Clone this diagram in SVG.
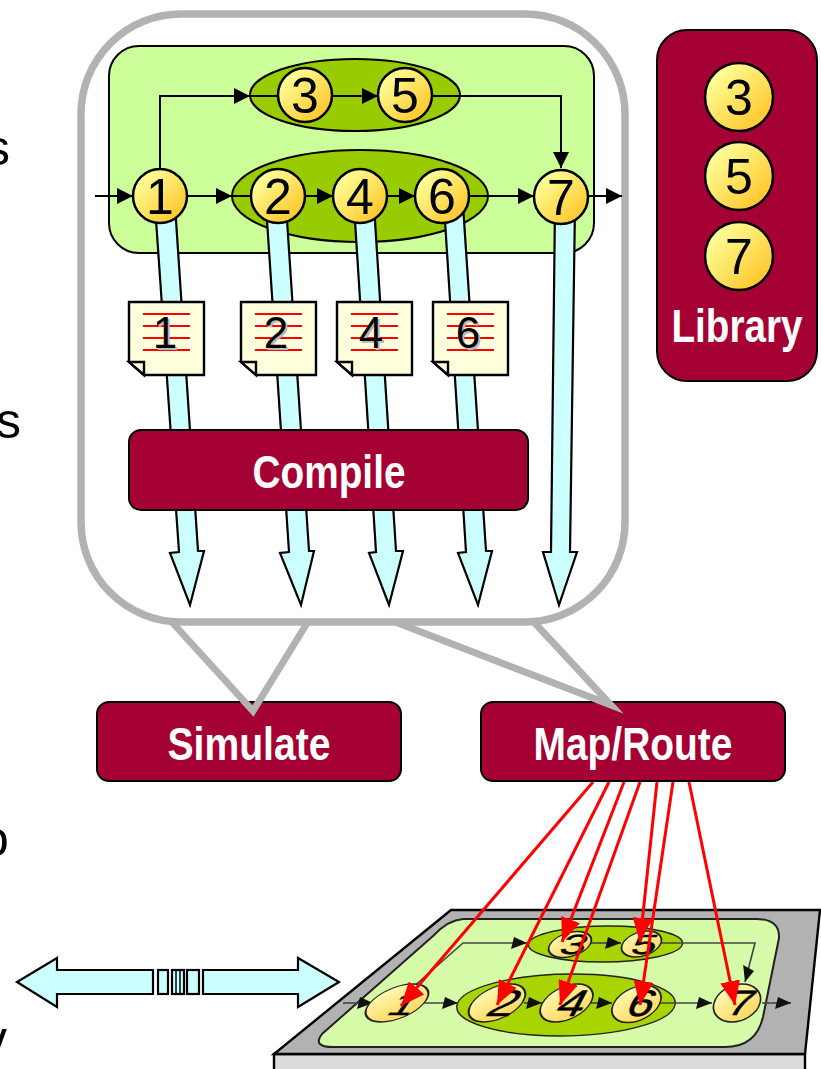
<svg xmlns="http://www.w3.org/2000/svg" width="821" height="1069" viewBox="0 0 821 1069">
<style>
.b{font-family:"Liberation Sans",Arial,sans-serif;font-weight:bold;fill:#fff;font-size:46px;text-anchor:middle}
.box{fill:#a50034;stroke:#000;stroke-width:2}
.n{fill:url(#g);stroke:#000;stroke-width:2.5}
.nt{font-family:"Liberation Sans",Arial,sans-serif;font-size:50px;text-anchor:middle;fill:#000}
.w{fill:none;stroke:#000;stroke-width:2}
.m{marker-end:url(#a)}
.cw{fill:none;stroke:#444;stroke-width:1.6;marker-end:url(#ca)}
.blue{fill:#ccffff;stroke:#000;stroke-width:2.2}
.doc{fill:#ffffdd;stroke:#000;stroke-width:2.4}
.rl{stroke:#f00;stroke-width:2}
.dt{font-family:"Liberation Sans",Arial,sans-serif;font-size:44px;text-anchor:middle}
.red{stroke:#f00;stroke-width:3;fill:none;marker-end:url(#ra)}
.edge{font-family:"Liberation Sans",Arial,sans-serif;font-size:50px;fill:#000}
.cn{fill:url(#g2);stroke:#222;stroke-width:1.6}
.ct{font-family:"Liberation Sans",Arial,sans-serif;font-size:37px;text-anchor:middle;fill:#000;stroke:#000;stroke-width:.5}
</style>
<defs>
<linearGradient id="g" x1="0.15" y1="0.15" x2="0.85" y2="0.85"><stop offset="0" stop-color="#ffff99"/><stop offset="1" stop-color="#ffc82e"/></linearGradient>
<linearGradient id="g2" x1="0.15" y1="0.15" x2="0.85" y2="0.85"><stop offset="0" stop-color="#fff8b0"/><stop offset="1" stop-color="#ffd860"/></linearGradient>
<marker id="a" markerUnits="userSpaceOnUse" markerWidth="17" markerHeight="16" refX="16" refY="8" orient="auto"><path d="M0 0L16 8L0 16Z" fill="#000"/></marker>
<marker id="ca" markerUnits="userSpaceOnUse" markerWidth="17" markerHeight="13" refX="16" refY="6" orient="auto"><path d="M3 0L16 6L0 12Z" fill="#111"/></marker>
<marker id="ra" markerUnits="userSpaceOnUse" markerWidth="25" markerHeight="20" refX="24" refY="10" orient="auto"><path d="M0 0L24 10L0 20Z" fill="#f00"/></marker>
</defs>
<rect width="821" height="1069" fill="#fff"/>
<g id="edge-text">
<text class="edge" x="-15" y="165">s</text>
<text class="edge" x="-4" y="438">s</text>
<text class="edge" x="-24" y="585">s</text>
<text class="edge" x="-19" y="856">o</text>
<text class="edge" x="-18" y="1056">v</text>
</g>
<g id="simulate"><rect class="box" x="97" y="702" width="304" height="79" rx="12"/><text class="b" x="249" y="760" textLength="163" lengthAdjust="spacingAndGlyphs">Simulate</text></g>
<g id="maproute"><rect class="box" x="481" y="702" width="304" height="79" rx="12"/><text class="b" x="633" y="760" textLength="199" lengthAdjust="spacingAndGlyphs">Map/Route</text></g>
<g id="frame">
<path d="M170 620L253 711L309 620M390 620L611 705L532 620" fill="none" stroke="#b2b2b2" stroke-width="7" stroke-miterlimit="10"/>
<rect x="81" y="14" width="544" height="608" rx="100" fill="#fff" stroke="#b2b2b2" stroke-width="7.5"/>
</g>
<g id="region">
<rect x="109" y="46" width="485" height="207" rx="30" fill="#ccff99" stroke="#000" stroke-width="2"/>
<ellipse cx="355" cy="95" rx="105" ry="36" fill="#99cc00" stroke="#000" stroke-width="2"/>
<ellipse cx="360" cy="196" rx="128" ry="46" fill="#99cc00" stroke="#000" stroke-width="2"/>
</g>
<g id="connectors">
<path class="w m" d="M160 170V96H250"/>
<path class="w" d="M250 96H279"/>
<path class="w m" d="M332 96H378"/>
<path class="w m" d="M432 96H561V168"/>
<path class="w m" d="M95 196H133"/>
<path class="w m" d="M187 196H232"/>
<path class="w" d="M232 196H252"/>
<path class="w m" d="M305 196H333"/>
<path class="w m" d="M387 196H415"/>
<path class="w m" d="M469 196H534"/>
<path class="w m" d="M588 196H622"/>
<path class="blue" d="M155 205L175 205L198 551L204 551L190 605L170 553L179 552Z"/>
<path class="blue" d="M266 205L286 205L309 551L314 551L301 605L280 553L289 552Z"/>
<path class="blue" d="M354 205L374 205L396 551L403 551L389 605L369 553L376 552Z"/>
<path class="blue" d="M444 205L463 205L486 551L492 551L478 605L458 553L466 552Z"/>
<path class="blue" d="M555 205L575 205L570 552L577 552L559 605L543 552L551 552Z"/>
</g>
<g id="n1"><circle class="n" cx="160" cy="196" r="27"/><text class="nt" x="160" y="214">1</text></g>
<g id="n2"><circle class="n" cx="278" cy="196" r="27"/><text class="nt" x="278" y="214">2</text></g>
<g id="n4"><circle class="n" cx="360" cy="196" r="27"/><text class="nt" x="360" y="214">4</text></g>
<g id="n6"><circle class="n" cx="442" cy="196" r="27"/><text class="nt" x="442" y="214">6</text></g>
<g id="n7"><circle class="n" cx="561" cy="197" r="27"/><text class="nt" x="561" y="215">7</text></g>
<g id="n3"><circle class="n" cx="305" cy="95" r="27"/><text class="nt" x="305" y="113">3</text></g>
<g id="n5"><circle class="n" cx="405" cy="95" r="27"/><text class="nt" x="405" y="113">5</text></g>
<g id="doc1"><path class="doc" d="M129 302H204V375H144L129 362Z"/><path class="doc" d="M129 362H144V375Z"/><path class="rl" d="M143 314H190M143 326H190M143 338H190M143 350H190"/><text class="dt" x="167" y="350" fill="#bbb">1</text><text class="dt" x="165" y="348">1</text></g>
<g id="doc2"><path class="doc" d="M241 302H316V375H256L241 362Z"/><path class="doc" d="M241 362H256V375Z"/><path class="rl" d="M255 314H302M255 326H302M255 338H302M255 350H302"/><text class="dt" x="278" y="350" fill="#bbb">2</text><text class="dt" x="276" y="348">2</text></g>
<g id="doc4"><path class="doc" d="M337 302H412V375H352L337 362Z"/><path class="doc" d="M337 362H352V375Z"/><path class="rl" d="M351 314H398M351 326H398M351 338H398M351 350H398"/><text class="dt" x="373" y="350" fill="#bbb">4</text><text class="dt" x="371" y="348">4</text></g>
<g id="doc6"><path class="doc" d="M433 302H508V375H448L433 362Z"/><path class="doc" d="M433 362H448V375Z"/><path class="rl" d="M447 314H494M447 326H494M447 338H494M447 350H494"/><text class="dt" x="470" y="350" fill="#bbb">6</text><text class="dt" x="468" y="348">6</text></g>
<g id="compile"><rect class="box" x="129" y="430" width="399" height="80" rx="12"/><text class="b" x="329" y="488" textLength="153" lengthAdjust="spacingAndGlyphs">Compile</text></g>
<g id="library"><rect class="box" x="657" y="30" width="160" height="351" rx="30"/>
<circle class="n" cx="739" cy="97" r="34"/><text class="nt" x="739" y="115">3</text>
<circle class="n" cx="739" cy="176" r="34"/><text class="nt" x="739" y="194">5</text>
<circle class="n" cx="739" cy="256" r="34"/><text class="nt" x="739" y="274">7</text>
<text class="b" x="737" y="342" textLength="131" lengthAdjust="spacingAndGlyphs">Library</text></g>
<g id="bus">
<path class="blue" d="M153 970H57V958L17 982L57 1007V994H153Z"/>
<path class="blue" d="M203 970H298V958L339 982L298 1007V994H203Z"/>
<rect class="blue" x="158" y="970" width="10" height="24"/>
<rect class="blue" x="172" y="970" width="12" height="24"/>
<path d="M176 970V994M180 970V994" stroke="#000" stroke-width="1.5"/>
<rect class="blue" x="187" y="970" width="12" height="24"/>
</g>
<g id="chip">
<path d="M274 1054H805V1071H274Z" fill="#dcdcdc" stroke="#000" stroke-width="2.4"/>
<path d="M451 910H820L805 1054H274Z" fill="#b2b2b2" stroke="#000" stroke-width="2.4"/>
<path d="M463 919H756Q780 919 779 938L763 1017Q756 1047 725 1047H333Q312 1047 322 1034L433 936Q448 920 463 919Z" fill="#d6fcaa" stroke="#222" stroke-width="2"/>
<ellipse cx="0" cy="0" rx="77" ry="18" fill="#a8d400" stroke="#222" stroke-width="1.4" transform="translate(605.5 944) skewX(-10)"/>
<ellipse cx="0" cy="0" rx="109" ry="31" fill="#a8d400" stroke="#222" stroke-width="1.4" transform="translate(566 1005) skewX(-12)"/>
<path class="cw" d="M343 1003H373"/>
<path class="cw" d="M420 1003H458"/>
<path class="cw" d="M524 1003H542"/>
<path class="cw" d="M590 1003H612"/>
<path class="cw" d="M660 1003H712"/>
<path class="cw" d="M762 1003H791"/>
<path class="cw" d="M412 988L463 943H527"/>
<path class="cw" d="M590 943H621"/>
<path class="cw" d="M660 943H755L745 982"/>
<g id="cn1"><ellipse class="cn" cx="0" cy="0" rx="27" ry="19" transform="translate(397 1003) skewX(-40)"/><text class="ct" transform="translate(397 1015) skewX(-35) scale(1.2 .85)">1</text></g>
<g id="cn2"><ellipse class="cn" cx="0" cy="0" rx="25" ry="19" transform="translate(497 1003) skewX(-35)"/><text class="ct" transform="translate(497 1016) skewX(-32) scale(1.3 1)">2</text></g>
<g id="cn4"><ellipse class="cn" cx="0" cy="0" rx="24" ry="19" transform="translate(566.5 1003) skewX(-30)"/><text class="ct" transform="translate(566.5 1016) skewX(-28) scale(1.3 1)">4</text></g>
<g id="cn6"><ellipse class="cn" cx="0" cy="0" rx="23" ry="18.5" transform="translate(636.5 1004) skewX(-25)"/><text class="ct" transform="translate(636.5 1016) skewX(-24) scale(1.25 1)">6</text></g>
<g id="cn7"><ellipse class="cn" cx="0" cy="0" rx="23" ry="19" transform="translate(737 1003) skewX(-15)"/><text class="ct" transform="translate(737 1015) skewX(-22) scale(1.2 .95)">7</text></g>
<g id="cn3"><ellipse class="cn" cx="0" cy="0" rx="20" ry="13" transform="translate(570 944.5) skewX(-30)"/><text class="ct" transform="translate(570 954) skewX(-25) scale(1.25 .75)">3</text></g>
<g id="cn5"><ellipse class="cn" cx="0" cy="0" rx="19" ry="13" transform="translate(641.5 944) skewX(-25)"/><text class="ct" transform="translate(641.5 954) skewX(-20) scale(1.2 .75)">5</text></g>
</g>
<g id="mapping-connectors">
<path class="red" d="M593 782L401 1006"/>
<path class="red" d="M609 782L497 1005"/>
<path class="red" d="M624 782L562 942"/>
<path class="red" d="M640 782L560 1005"/>
<path class="red" d="M657 782L640 942"/>
<path class="red" d="M673 782L640 1005"/>
<path class="red" d="M689 782L735 1005"/>
</g>
</svg>
